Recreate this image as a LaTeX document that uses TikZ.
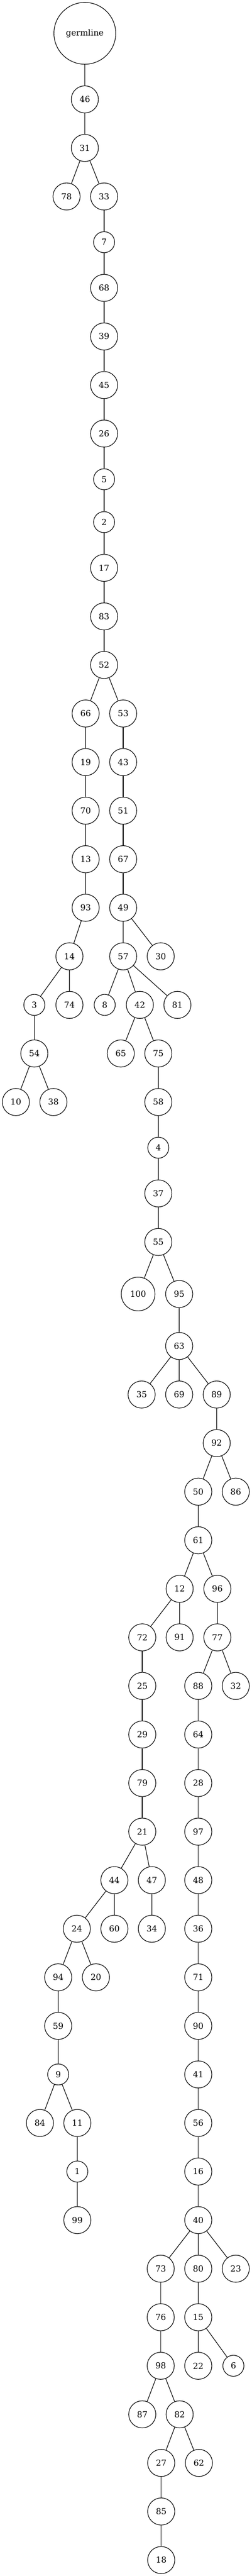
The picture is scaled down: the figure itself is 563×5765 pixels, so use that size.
\documentclass[tikz,border=0pt]{standalone}
\usepackage{fontspec}
\setmainfont{DejaVu Serif}

\begin{document}
\begin{tikzpicture}[x=0.75pt, y=-0.75pt, line width=1pt,
  tnode/.style={circle, draw, inner sep=0pt, minimum size=45.5pt, font=\fontsize{14pt}{17pt}\selectfont},
  snode/.style={tnode, minimum size=35.3pt},
  bnode/.style={tnode, minimum size=56.6pt},
  rootnode/.style={tnode, minimum size=103.7pt}]
\useasboundingbox (0,0) rectangle (563,5765);
\node [rootnode] (g) at (189.8,74.6) {germline};
\node [tnode] (n46) at (189.8,222.4) {46};
\node [tnode] (n31) at (189.8,331.1) {31};
\node [tnode] (n78) at (148.9,439.7) {78};
\node [tnode] (n33) at (232.9,439.7) {33};
\node [snode] (n7) at (232.9,542.0) {7};
\node [tnode] (n68) at (232.9,644.3) {68};
\node [tnode] (n39) at (232.9,753.0) {39};
\node [tnode] (n45) at (232.9,861.7) {45};
\node [tnode] (n26) at (232.9,970.3) {26};
\node [snode] (n5) at (232.9,1072.6) {5};
\node [snode] (n2) at (232.9,1168.5) {2};
\node [tnode] (n17) at (232.9,1270.8) {17};
\node [tnode] (n83) at (232.9,1379.5) {83};
\node [tnode] (n52) at (232.9,1488.1) {52};
\node [tnode] (n66) at (191.6,1596.8) {66};
\node [tnode] (n53) at (275.6,1596.8) {53};
\node [tnode] (n19) at (191.6,1705.5) {19};
\node [tnode] (n43) at (275.6,1705.5) {43};
\node [tnode] (n70) at (191.6,1814.2) {70};
\node [tnode] (n51) at (275.6,1814.2) {51};
\node [tnode] (n13) at (191.6,1922.9) {13};
\node [tnode] (n67) at (275.6,1922.9) {67};
\node [tnode] (n93) at (191.6,2031.5) {93};
\node [tnode] (n49) at (275.6,2031.5) {49};
\node [tnode] (n14) at (155.4,2140.2) {14};
\node [tnode] (n57) at (275.6,2140.2) {57};
\node [tnode] (n30) at (359.6,2140.2) {30};
\node [snode] (n3) at (76.8,2248.9) {3};
\node [tnode] (n74) at (155.4,2248.9) {74};
\node [snode] (n8) at (234.3,2248.9) {8};
\node [tnode] (n42) at (312.9,2248.9) {42};
\node [tnode] (n81) at (396.9,2248.9) {81};
\node [tnode] (n54) at (76.8,2357.6) {54};
\node [tnode] (n65) at (270.2,2357.6) {65};
\node [tnode] (n75) at (354.2,2357.6) {75};
\node [tnode] (n10) at (35.5,2466.3) {10};
\node [tnode] (n38) at (119.5,2466.3) {38};
\node [tnode] (n58) at (354.2,2466.3) {58};
\node [snode] (n4) at (354.2,2568.5) {4};
\node [tnode] (n37) at (354.2,2670.8) {37};
\node [tnode] (n55) at (354.2,2779.5) {55};
\node [bnode] (n100) at (309.0,2895.9) {100};
\node [tnode] (n95) at (400.9,2895.9) {95};
\node [tnode] (n63) at (400.9,3012.3) {63};
\node [tnode] (n35) at (316.9,3120.9) {35};
\node [tnode] (n69) at (400.9,3120.9) {69};
\node [tnode] (n89) at (484.8,3120.9) {89};
\node [tnode] (n92) at (484.8,3229.6) {92};
\node [tnode] (n50) at (443.6,3338.3) {50};
\node [tnode] (n86) at (527.5,3338.3) {86};
\node [tnode] (n61) at (443.6,3447.0) {61};
\node [tnode] (n12) at (401.9,3555.7) {12};
\node [tnode] (n96) at (486.3,3555.7) {96};
\node [tnode] (n72) at (318.3,3664.3) {72};
\node [tnode] (n91) at (401.9,3664.3) {91};
\node [tnode] (n77) at (486.3,3664.3) {77};
\node [tnode] (n25) at (318.3,3773.0) {25};
\node [tnode] (n88) at (443.6,3773.0) {88};
\node [tnode] (n32) at (527.5,3773.0) {32};
\node [tnode] (n29) at (318.3,3881.7) {29};
\node [tnode] (n64) at (443.6,3881.7) {64};
\node [tnode] (n79) at (318.3,3990.4) {79};
\node [tnode] (n28) at (443.6,3990.4) {28};
\node [tnode] (n21) at (318.3,4099.1) {21};
\node [tnode] (n97) at (443.6,4099.1) {97};
\node [tnode] (n44) at (255.9,4207.7) {44};
\node [tnode] (n47) at (339.8,4207.7) {47};
\node [tnode] (n48) at (443.6,4207.7) {48};
\node [tnode] (n24) at (171.9,4316.4) {24};
\node [tnode] (n60) at (255.9,4316.4) {60};
\node [tnode] (n34) at (339.8,4316.4) {34};
\node [tnode] (n36) at (443.6,4316.4) {36};
\node [tnode] (n94) at (130.2,4425.1) {94};
\node [tnode] (n20) at (214.6,4425.1) {20};
\node [tnode] (n71) at (443.6,4425.1) {71};
\node [tnode] (n59) at (130.2,4533.8) {59};
\node [tnode] (n90) at (443.6,4533.8) {90};
\node [snode] (n9) at (130.2,4642.5) {9};
\node [tnode] (n41) at (443.6,4642.5) {41};
\node [tnode] (n84) at (89.3,4751.1) {84};
\node [tnode] (n11) at (173.0,4751.1) {11};
\node [tnode] (n56) at (443.6,4751.1) {56};
\node [snode] (n1) at (173.0,4859.8) {1};
\node [tnode] (n16) at (443.6,4859.8) {16};
\node [tnode] (n99) at (173.0,4968.5) {99};
\node [tnode] (n40) at (443.6,4968.5) {40};
\node [tnode] (n73) at (359.6,5077.2) {73};
\node [tnode] (n80) at (443.6,5077.2) {80};
\node [tnode] (n23) at (527.5,5077.2) {23};
\node [tnode] (n76) at (359.6,5185.9) {76};
\node [tnode] (n15) at (443.6,5185.9) {15};
\node [tnode] (n98) at (359.6,5294.5) {98};
\node [tnode] (n22) at (443.6,5294.5) {22};
\node [snode] (n6) at (522.2,5294.5) {6};
\node [tnode] (n87) at (318.3,5403.2) {87};
\node [tnode] (n82) at (401.9,5403.2) {82};
\node [tnode] (n27) at (360.7,5511.9) {27};
\node [tnode] (n62) at (445.0,5511.9) {62};
\node [tnode] (n85) at (360.7,5620.6) {85};
\node [tnode] (n18) at (360.7,5729.3) {18};

\draw (g) -- (n46) (n46) -- (n31) (n31) -- (n78) (n31) -- (n33);
\draw (n33) -- (n7) (n7) -- (n68) (n68) -- (n39) (n39) -- (n45) (n45) -- (n26);
\draw (n26) -- (n5) (n5) -- (n2) (n2) -- (n17) (n17) -- (n83) (n83) -- (n52);
\draw (n52) -- (n66) (n52) -- (n53);
\draw (n66) -- (n19) (n19) -- (n70) (n70) -- (n13) (n13) -- (n93) (n93) -- (n14);
\draw (n14) -- (n3) (n14) -- (n74) (n3) -- (n54) (n54) -- (n10) (n54) -- (n38);
\draw (n53) -- (n43) (n43) -- (n51) (n51) -- (n67) (n67) -- (n49);
\draw (n49) -- (n57) (n49) -- (n30);
\draw (n57) -- (n8) (n57) -- (n42) (n57) -- (n81);
\draw (n42) -- (n65) (n42) -- (n75) (n75) -- (n58) (n58) -- (n4) (n4) -- (n37) (n37) -- (n55);
\draw (n55) -- (n100) (n55) -- (n95) (n95) -- (n63);
\draw (n63) -- (n35) (n63) -- (n69) (n63) -- (n89) (n89) -- (n92);
\draw (n92) -- (n50) (n92) -- (n86) (n50) -- (n61) (n61) -- (n12) (n61) -- (n96);
\draw (n12) -- (n72) (n12) -- (n91) (n96) -- (n77) (n77) -- (n88) (n77) -- (n32);
\draw (n72) -- (n25) (n25) -- (n29) (n29) -- (n79) (n79) -- (n21);
\draw (n88) -- (n64) (n64) -- (n28) (n28) -- (n97) (n97) -- (n48) (n48) -- (n36) (n36) -- (n71);
\draw (n71) -- (n90) (n90) -- (n41) (n41) -- (n56) (n56) -- (n16) (n16) -- (n40);
\draw (n21) -- (n44) (n21) -- (n47) (n44) -- (n24) (n44) -- (n60) (n47) -- (n34);
\draw (n24) -- (n94) (n24) -- (n20) (n94) -- (n59) (n59) -- (n9);
\draw (n9) -- (n84) (n9) -- (n11) (n11) -- (n1) (n1) -- (n99);
\draw (n40) -- (n73) (n40) -- (n80) (n40) -- (n23);
\draw (n73) -- (n76) (n76) -- (n98) (n80) -- (n15) (n15) -- (n22) (n15) -- (n6);
\draw (n98) -- (n87) (n98) -- (n82) (n82) -- (n27) (n82) -- (n62);
\draw (n27) -- (n85) (n85) -- (n18);
\end{tikzpicture}
\end{document}
